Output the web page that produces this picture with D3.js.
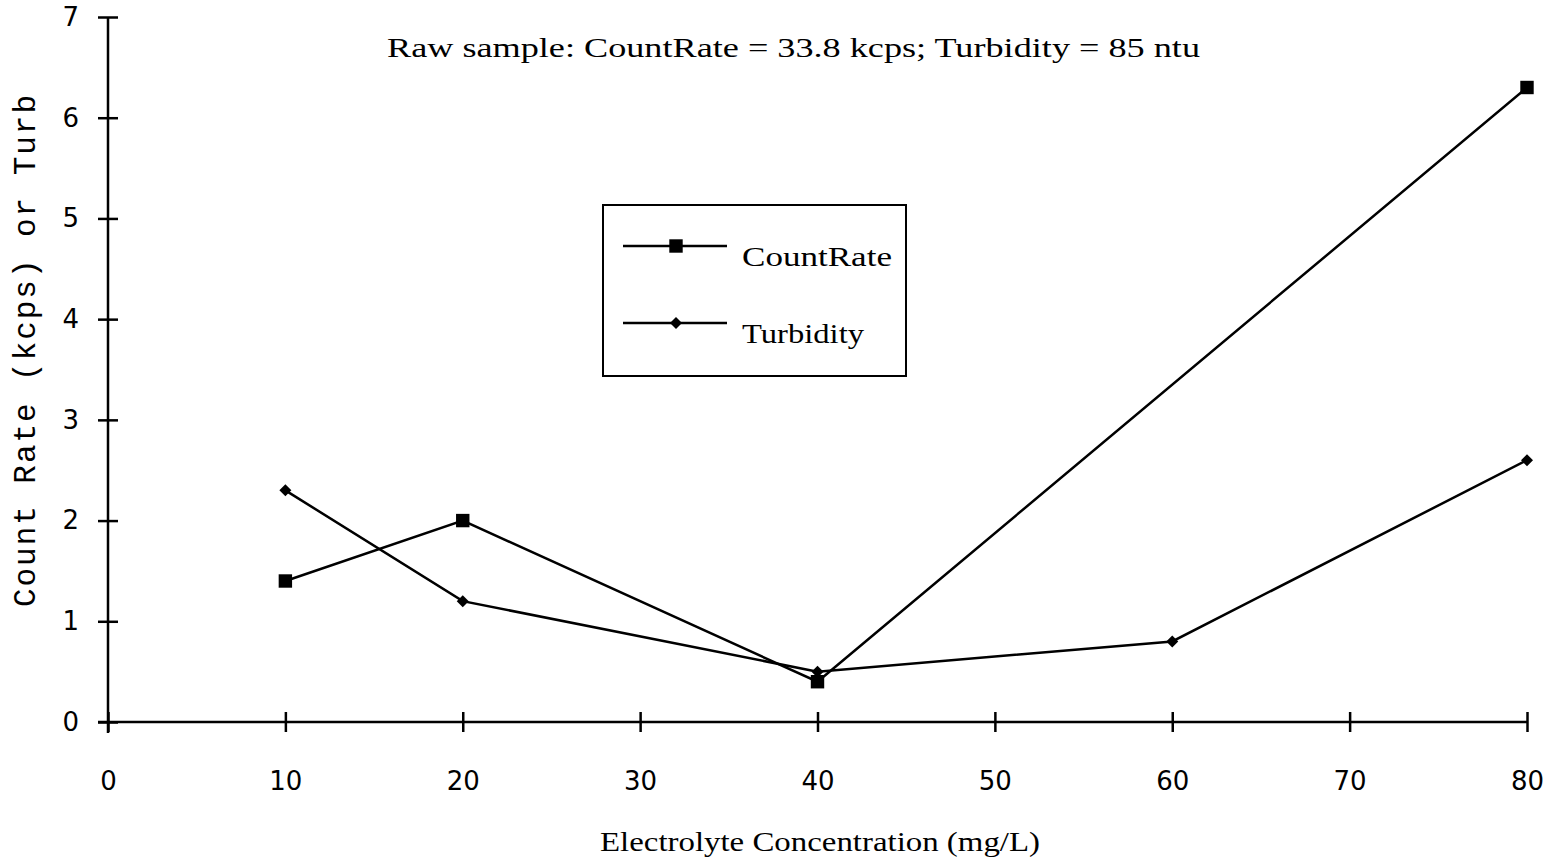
<!DOCTYPE html>
<html lang="en">
<head>
    <meta charset="UTF-8">
    <title>Count Rate and Turbidity</title>
    <style>
        body { margin: 0; background: #fff; }
        .tick text { font-family: "DejaVu Sans"; font-size: 26px; fill: #000; }
        .line { fill: none; stroke: #000; stroke-width: 2.5px; }
        .serif { font-family: "Liberation Serif"; fill: #000; }
    </style>
</head>
<body>
<svg id="chart" width="1556" height="861"></svg>
<script src="https://cdn.jsdelivr.net/npm/d3@7"></script>
<script>
    var xTicks = [0, 10, 20, 30, 40, 50, 60, 70, 80];
    var yTicks = [0, 1, 2, 3, 4, 5, 6, 7];
    var countX = [10, 20, 40, 80];
    var countRate = [1.4, 2.0, 0.4, 6.3];
    var turbX = [10, 20, 40, 60, 80];
    var turbidity = [2.3, 1.2, 0.5, 0.8, 2.6];

    var svg = d3.select('#chart');

    var x = d3.scaleLinear().domain([0, 80]).range([108, 1527]);
    var y = d3.scaleLinear().domain([0, 7]).range([722, 17]);

    // axes, ticks cross the axis line
    var gx = svg.append('g').attr('transform', 'translate(0,' + y(0) + ')')
        .call(d3.axisBottom(x).tickValues(xTicks).tickSize(10).tickPadding(40).tickFormat(d3.format('d')));
    gx.select('.domain').remove();
    gx.selectAll('.tick line').attr('y1', -10).attr('stroke-width', 2.5);

    var gy = svg.append('g').attr('transform', 'translate(' + x(0) + ',0)')
        .call(d3.axisLeft(y).tickValues(yTicks).tickSize(10).tickPadding(19).tickFormat(d3.format('d')));
    gy.select('.domain').remove();
    gy.selectAll('.tick line').attr('x1', 10).attr('stroke-width', 2.5);

    svg.append('line').attr('x1', x(0) - 10).attr('x2', x(80))
        .attr('y1', y(0)).attr('y2', y(0)).attr('stroke', '#000').attr('stroke-width', 2.5);
    svg.append('line').attr('x1', x(0)).attr('x2', x(0))
        .attr('y1', y(7)).attr('y2', y(0) + 11).attr('stroke', '#000').attr('stroke-width', 2.5);

    var line = d3.line().x(d => x(d[0])).y(d => y(d[1]));
    var countPts = countX.map((v, i) => [v, countRate[i]]);
    var turbPts = turbX.map((v, i) => [v, turbidity[i]]);

    svg.append('path').attr('class', 'line').attr('d', line(countPts));
    svg.append('path').attr('class', 'line').attr('d', line(turbPts));

    var sq = d3.symbol().type(d3.symbolSquare).size(180)();
    var dm = d3.symbol().type(d3.symbolSquare).size(72)();   // rotated 45deg -> diamond

    svg.selectAll('.sq').data(countPts).enter().append('path')
        .attr('d', sq).attr('transform', d => 'translate(' + x(d[0]) + ',' + y(d[1]) + ')');
    svg.selectAll('.dm').data(turbPts).enter().append('path')
        .attr('d', dm).attr('transform', d => 'translate(' + x(d[0]) + ',' + y(d[1]) + ') rotate(45)');

    // titles
    svg.append('text').attr('class', 'serif').attr('x', 387).attr('y', 57)
        .attr('font-size', 27).attr('textLength', 813).attr('lengthAdjust', 'spacingAndGlyphs')
        .text('Raw sample:  CountRate = 33.8 kcps; Turbidity = 85 ntu');

    svg.append('text').attr('class', 'serif').attr('x', 600).attr('y', 851)
        .attr('font-size', 27).attr('textLength', 440).attr('lengthAdjust', 'spacingAndGlyphs')
        .text('Electrolyte Concentration (mg/L)');

    svg.append('text').attr('transform', 'translate(35,607) rotate(-90)')
        .attr('font-family', 'Liberation Mono').attr('font-size', 31)
        .attr('textLength', 512).attr('lengthAdjust', 'spacing')
        .text('Count Rate (kcps) or Turb');

    // legend
    svg.append('rect').attr('x', 603).attr('y', 205).attr('width', 303).attr('height', 171)
        .attr('fill', '#fff').attr('stroke', '#000').attr('stroke-width', 2);
    var legend = [{ name: 'CountRate', sym: sq, rot: 0, y: 246, len: 150 },
                  { name: 'Turbidity', sym: dm, rot: 45, y: 323, len: 122 }];
    var lg = svg.selectAll('.lg').data(legend).enter().append('g');
    lg.append('line').attr('x1', 623).attr('x2', 727).attr('y1', d => d.y).attr('y2', d => d.y)
        .attr('stroke', '#000').attr('stroke-width', 2.5);
    lg.append('path').attr('d', d => d.sym)
        .attr('transform', d => 'translate(676,' + d.y + ') rotate(' + d.rot + ')');
    lg.append('text').attr('class', 'serif').attr('x', 742).attr('y', d => d.y + 20)
        .attr('font-size', 27).attr('textLength', d => d.len).attr('lengthAdjust', 'spacingAndGlyphs')
        .text(d => d.name);
</script>
</body>
</html>
